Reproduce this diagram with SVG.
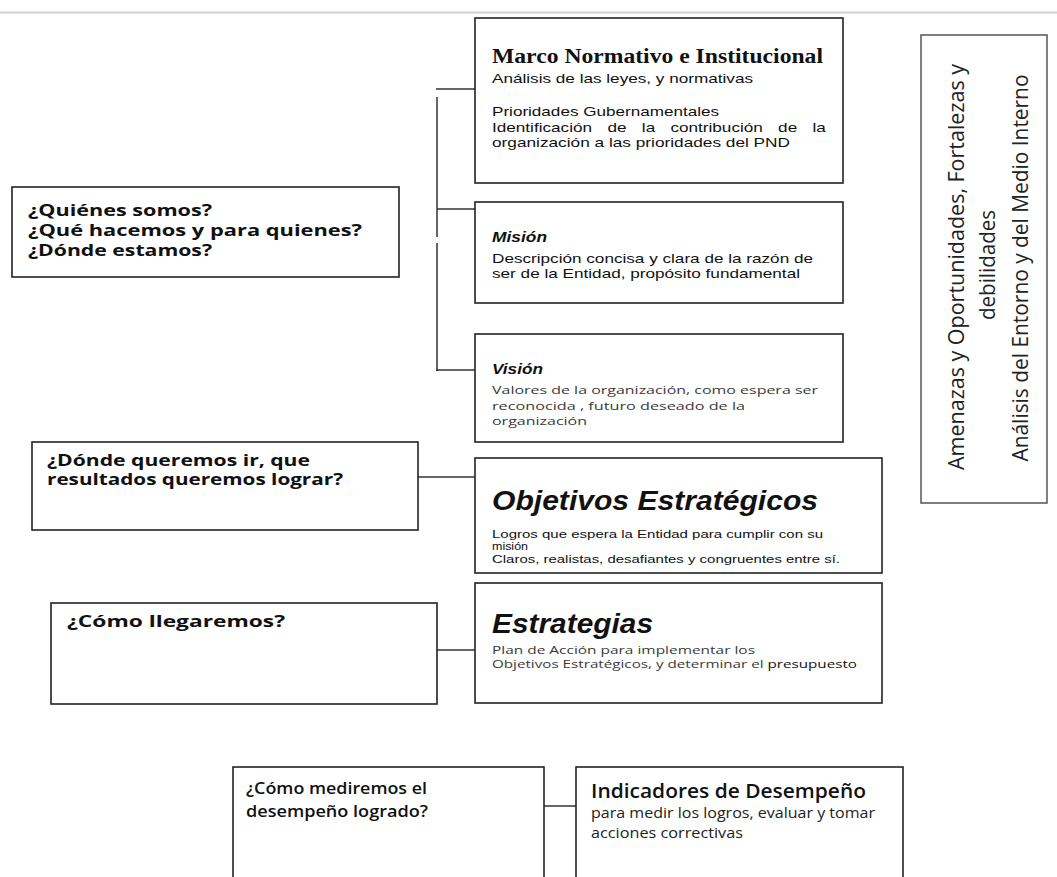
<svg xmlns="http://www.w3.org/2000/svg" width="1057" height="877" viewBox="0 0 1057 877">
<style>
.box{fill:#fff;stroke:#222;stroke-width:1.6}
.vbox{fill:#fff;stroke:#555;stroke-width:1.5}
.con{stroke:#333;stroke-width:1.5;fill:none}
.q{font-family:"Open Sans","DejaVu Sans",sans-serif;font-weight:bold;font-size:16px;fill:#111}
.q2{font-family:"Open Sans","Liberation Sans",sans-serif;font-weight:600;font-size:16px;fill:#111}
.ar{font-family:"Liberation Sans",Arial,sans-serif;font-size:13.5px;fill:#111}
.sm{font-family:"Liberation Sans",Arial,sans-serif;font-size:11.5px;fill:#111}
.gt{font-family:"Open Sans","Liberation Sans",sans-serif;font-size:11.5px;fill:#3a3a3a}
.bi{font-family:"Liberation Sans",Arial,sans-serif;font-weight:bold;font-style:italic;fill:#111}
.serif{font-family:"Liberation Serif","Times New Roman",serif;font-weight:bold;font-size:20px;fill:#111}
.ind{font-family:"Open Sans","Liberation Sans",sans-serif;font-size:19px;font-weight:600;fill:#111}
.indt{font-family:"Open Sans","Liberation Sans",sans-serif;font-size:14.5px;fill:#222}
.vt{font-family:"Open Sans","Liberation Sans",sans-serif;font-size:22px;fill:#222}
</style>
<line x1="0" y1="12.5" x2="1057" y2="12.5" stroke="#d0d0d0" stroke-width="2"/>

<g id="connectors">
<line class="con" x1="436" y1="89" x2="475" y2="89"/>
<line class="con" x1="437" y1="97" x2="437" y2="237"/>
<line class="con" x1="437" y1="243" x2="437" y2="371"/>
<line class="con" x1="437" y1="209" x2="475" y2="209"/>
<line class="con" x1="436" y1="370" x2="475" y2="370"/>
<line class="con" x1="418" y1="477" x2="475" y2="477"/>
<line class="con" x1="437" y1="650" x2="475" y2="650"/>
<line class="con" x1="544" y1="806" x2="576" y2="806"/>
</g>

<g id="marco">
<rect class="box" x="475" y="18" width="368" height="165"/>
<text class="serif" x="492" y="63" textLength="331" lengthAdjust="spacingAndGlyphs">Marco Normativo e Institucional</text>
<text class="ar" x="492" y="83" textLength="261" lengthAdjust="spacingAndGlyphs">Análisis de las leyes, y normativas</text>
<text class="ar" x="492" y="116" textLength="227" lengthAdjust="spacingAndGlyphs">Prioridades Gubernamentales</text>
<text class="ar" y="132" transform="scale(1.27 1)"><tspan x="387.4">Identificación</tspan> <tspan x="478.3">de</tspan> <tspan x="505.4">la</tspan> <tspan x="527.9">contribución</tspan> <tspan x="612.7">de</tspan> <tspan x="639.8">la</tspan></text>
<text class="ar" x="492" y="147" textLength="298" lengthAdjust="spacingAndGlyphs">organización a las prioridades del PND</text>
</g>

<g id="mision">
<rect class="box" x="475" y="202" width="368" height="101"/>
<text class="bi" font-size="14" x="492" y="242" textLength="55" lengthAdjust="spacingAndGlyphs">Misión</text>
<text class="ar" x="492" y="263" textLength="321" lengthAdjust="spacingAndGlyphs">Descripción concisa y clara de la razón de</text>
<text class="ar" x="492" y="278" textLength="308" lengthAdjust="spacingAndGlyphs">ser de la Entidad, propósito fundamental</text>
</g>

<g id="vision">
<rect class="box" x="475" y="334" width="368" height="108"/>
<text class="bi" font-size="14" x="492" y="374" textLength="51" lengthAdjust="spacingAndGlyphs">Visión</text>
<text class="gt" font-size="12.5" x="492" y="394" textLength="326" lengthAdjust="spacingAndGlyphs">Valores de la organización, como espera ser</text>
<text class="gt" font-size="12.5" x="492" y="410" textLength="253" lengthAdjust="spacingAndGlyphs">reconocida , futuro deseado de la</text>
<text class="gt" font-size="12.5" x="492" y="425" textLength="95" lengthAdjust="spacingAndGlyphs">organización</text>
</g>

<g id="quienes">
<rect class="box" x="12" y="187" width="387" height="90"/>
<text class="q" x="28" y="216" textLength="184" lengthAdjust="spacingAndGlyphs">¿Quiénes somos?</text>
<text class="q" x="28" y="236" textLength="334" lengthAdjust="spacingAndGlyphs">¿Qué hacemos y para quienes?</text>
<text class="q" x="28" y="256" textLength="184" lengthAdjust="spacingAndGlyphs">¿Dónde estamos?</text>
</g>

<g id="donde">
<rect class="box" x="32" y="442" width="386" height="88"/>
<text class="q" font-size="14" x="47" y="466" textLength="263" lengthAdjust="spacingAndGlyphs">¿Dónde queremos ir, que</text>
<text class="q" font-size="14" x="47" y="485" textLength="296" lengthAdjust="spacingAndGlyphs">resultados queremos lograr?</text>
</g>

<g id="objetivos">
<rect class="box" x="475" y="458" width="407" height="115"/>
<text class="bi" font-size="27" x="492" y="510" textLength="326" lengthAdjust="spacingAndGlyphs">Objetivos Estratégicos</text>
<text class="sm" x="492" y="538" textLength="331" lengthAdjust="spacingAndGlyphs">Logros que espera la Entidad para cumplir con su</text>
<text class="sm" x="492" y="550" textLength="36" lengthAdjust="spacingAndGlyphs">misión</text>
<text class="sm" x="492" y="563" textLength="348" lengthAdjust="spacingAndGlyphs">Claros, realistas, desafiantes y congruentes entre sí.</text>
</g>

<g id="como">
<rect class="box" x="51" y="603" width="386" height="101"/>
<text class="q" x="67" y="627" textLength="218" lengthAdjust="spacingAndGlyphs">¿Cómo llegaremos?</text>
</g>

<g id="estrategias">
<rect class="box" x="475" y="583" width="407" height="120"/>
<text class="bi" font-size="27" x="492" y="633" textLength="161" lengthAdjust="spacingAndGlyphs">Estrategias</text>
<text class="gt" x="492" y="654" textLength="263" lengthAdjust="spacingAndGlyphs">Plan de Acción para implementar los</text>
<text class="gt" x="492" y="668" textLength="365" lengthAdjust="spacingAndGlyphs">Objetivos Estratégicos, y determinar el <tspan fill="#111">presupuesto</tspan></text>
</g>

<g id="mediremos">
<rect class="box" x="233" y="767" width="311" height="130"/>
<text class="q2" x="246" y="794" textLength="181" lengthAdjust="spacingAndGlyphs">¿Cómo mediremos el</text>
<text class="q2" x="246" y="817" textLength="182" lengthAdjust="spacingAndGlyphs">desempeño logrado?</text>
</g>

<g id="indicadores">
<rect class="box" x="576" y="767" width="327" height="130"/>
<text class="ind" x="591" y="798" textLength="275" lengthAdjust="spacingAndGlyphs">Indicadores de Desempeño</text>
<text class="indt" x="591" y="818" textLength="284" lengthAdjust="spacingAndGlyphs">para medir los logros, evaluar  y tomar</text>
<text class="indt" x="591" y="838" textLength="152" lengthAdjust="spacingAndGlyphs">acciones correctivas</text>
</g>

<g id="foda">
<rect class="vbox" x="921" y="35" width="126" height="468"/>
<g transform="rotate(-90)">
<text class="vt" x="-267" y="964" text-anchor="middle" textLength="406" lengthAdjust="spacingAndGlyphs">Amenazas y Oportunidades, Fortalezas y</text>
<text class="vt" x="-265" y="995" text-anchor="middle" textLength="110" lengthAdjust="spacingAndGlyphs">debilidades</text>
<text class="vt" x="-268" y="1028" text-anchor="middle" textLength="387" lengthAdjust="spacingAndGlyphs">Análisis del Entorno y del Medio Interno</text>
</g>
</g>
</svg>
